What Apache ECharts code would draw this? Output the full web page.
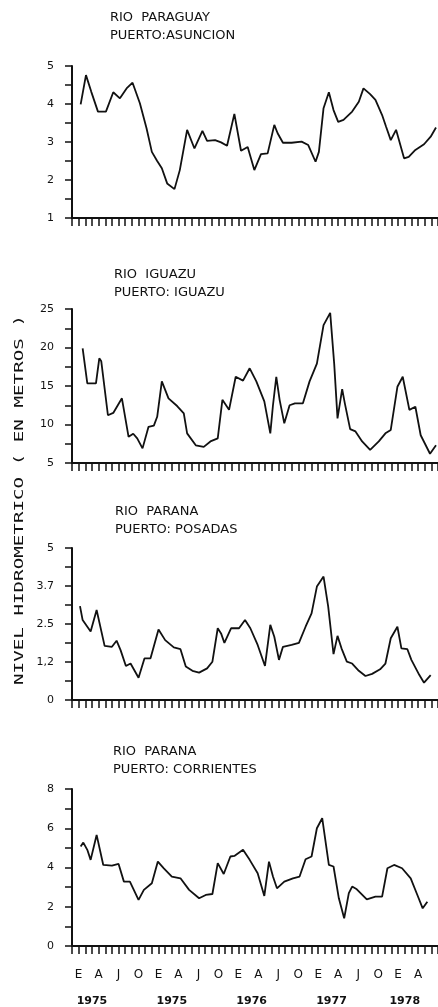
<!DOCTYPE html>
<html>
<head>
<meta charset="utf-8">
<script src="https://cdn.jsdelivr.net/npm/echarts@6/dist/echarts.min.js"></script>
<style>
html, body { margin: 0; padding: 0; background: #fff; }
#chart { width: 438px; height: 1007px; }
</style>
</head>
<body>
<div id="chart"></div>
<script>
// meses contados desde enero 1975 (E = enero, A = abril, J = julio, O = octubre)
var paraguayMes = [0.3,1.1,1.9,2.9,4.1,5.2,6.2,7.2,8.1,9.2,10.2,11.0,11.8,12.5,13.3,14.4,15.2,16.3,17.4,18.6,19.3,20.5,21.4,22.3,23.4,24.4,25.4,26.4,27.4,28.4,29.4,29.9,30.7,32.0,33.5,34.5,35.6,36.1,36.8,37.6,38.3,39.0,39.8,41.1,42.1,42.8,43.8,44.6,45.6,46.2,46.9,47.7,48.9,49.6,50.6,51.9,52.9,53.7];
var paraguayNivel = [3.99,4.76,4.32,3.80,3.80,4.31,4.15,4.41,4.56,4.02,3.36,2.74,2.50,2.31,1.91,1.76,2.26,3.32,2.83,3.29,3.03,3.05,2.99,2.90,3.74,2.77,2.87,2.26,2.68,2.70,3.45,3.23,2.98,2.98,3.01,2.92,2.48,2.74,3.89,4.31,3.84,3.53,3.58,3.80,4.06,4.41,4.26,4.11,3.71,3.40,3.05,3.32,2.57,2.61,2.79,2.94,3.14,3.38];

var iguazuMes = [0.6,1.3,2.6,3.1,3.4,4.4,5.2,6.5,7.5,8.2,8.8,9.6,10.5,11.3,11.8,12.5,13.5,14.8,15.8,16.3,17.6,18.8,19.8,20.9,21.6,22.6,23.6,24.7,25.7,26.7,27.9,28.8,29.2,29.7,30.2,30.9,31.7,32.5,33.7,34.7,35.8,36.8,37.8,38.4,38.9,39.6,40.0,40.8,41.6,42.6,43.8,45.1,46.1,46.9,47.9,48.7,49.7,50.6,51.4,52.8,53.7];
var iguazuNivel = [19.9,15.35,15.35,18.6,18.2,11.2,11.5,13.4,8.4,8.8,8.2,6.9,9.7,9.85,11.0,15.6,13.4,12.4,11.45,8.85,7.3,7.1,7.8,8.2,13.2,11.9,16.2,15.7,17.3,15.6,13.0,8.85,12.5,16.2,13.2,10.15,12.5,12.75,12.75,15.6,17.9,22.9,24.5,17.9,10.8,14.6,12.75,9.4,9.1,7.8,6.7,7.8,8.85,9.3,14.9,16.2,11.9,12.3,8.6,6.2,7.3];

var posadasMes = [0.2,0.6,1.8,2.7,3.9,5.0,5.7,6.3,7.1,7.8,9.0,9.9,10.8,12.0,13.0,14.3,15.3,16.1,17.1,18.1,19.3,20.1,20.9,21.4,21.9,22.9,24.1,25.0,25.8,26.9,28.0,28.8,29.4,30.1,30.7,32.0,33.1,34.1,35.0,35.8,36.8,37.5,38.3,38.9,39.5,40.3,41.1,42.1,43.1,44.1,45.3,46.1,46.9,47.9,48.5,49.4,50.0,51.2,51.9,52.9];
var posadasNivel = [3.09,2.63,2.25,2.96,1.78,1.75,1.95,1.64,1.12,1.20,0.73,1.37,1.37,2.32,1.97,1.73,1.67,1.10,0.96,0.90,1.04,1.26,2.36,2.19,1.88,2.36,2.36,2.63,2.36,1.81,1.12,2.47,2.08,1.32,1.75,1.81,1.88,2.41,2.85,3.73,4.06,3.07,1.51,2.11,1.70,1.26,1.20,0.96,0.79,0.86,1.01,1.20,2.03,2.41,1.70,1.67,1.32,0.82,0.57,0.82];

var corrientesMes = [0.3,0.7,1.3,1.8,2.7,3.7,5.0,6.0,6.8,7.7,9.0,9.8,11.0,11.9,12.8,14.0,15.3,16.6,18.1,19.1,20.1,20.9,21.8,22.8,23.4,24.7,25.7,26.9,27.9,28.6,29.2,29.8,30.9,32.2,33.2,34.1,35.0,35.8,36.6,37.6,38.3,39.1,39.9,40.6,41.1,41.8,43.3,44.6,45.6,46.4,47.4,48.6,49.9,50.9,51.7,52.4];
var corrientesNivel = [5.07,5.27,4.90,4.39,5.66,4.13,4.10,4.18,3.28,3.28,2.35,2.86,3.20,4.30,3.96,3.54,3.45,2.86,2.43,2.60,2.65,4.22,3.67,4.56,4.59,4.90,4.39,3.71,2.55,4.30,3.54,2.94,3.28,3.45,3.54,4.42,4.56,6.00,6.51,4.13,4.05,2.43,1.41,2.69,3.03,2.89,2.38,2.52,2.52,3.96,4.13,3.96,3.45,2.60,1.92,2.26];

var letrasMes = ['E', 'A', 'J', 'O'];
var ultimaLetra = 51;   // la ultima etiqueta es la A de 1978
var anioMes = [2, 14, 26, 38, 49];
var anioTexto = ['1975', '1975', '1976', '1977', '1978'];

var titulos = [
    'RIO  PARAGUAY\nPUERTO:ASUNCION',
    'RIO  IGUAZU\nPUERTO: IGUAZU',
    'RIO  PARANA\nPUERTO: POSADAS',
    'RIO  PARANA\nPUERTO: CORRIENTES'
];

// escalas de los ejes verticales: [min, max, paso de marcas]
var ejeY = [[1, 5, 0.5], [5, 25, 2.5], [0, 5, 0.625], [0, 8, 1]];
var posadasEtiq = { '0': '0', '1.25': '1,2', '2.5': '2.5', '3.75': '3.7', '5': '5' };

var negro = '#111';
var fuente = 'DejaVu Sans';

var gridPos = [
    { top: 66, height: 152 },
    { top: 309, height: 154 },
    { top: 548, height: 152 },
    { top: 789, height: 157 }
];
var tituloPos = [[110, 9], [114, 266], [115, 503], [113, 743]];

function pares(mes, nivel) {
    var out = [];
    for (var i = 0; i < mes.length; i++) {
        out.push([mes[i], nivel[i]]);
    }
    return out;
}

function etiquetaY(idx) {
    return function (v) {
        if (idx == 0) return Math.abs(v - Math.round(v)) < 1e-6 ? String(Math.round(v)) : '';
        if (idx == 1) return v % 5 == 0 ? String(v) : '';
        if (idx == 2) {
            var k = String(Math.round(v * 100) / 100);
            return posadasEtiq[k] || '';
        }
        return v % 2 == 0 ? String(v) : '';
    };
}

function etiquetaX(v) {
    var m = Math.round(v);
    if (m >= 0 && m <= ultimaLetra && m % 3 == 0) return letrasMes[(m / 3) % 4];
    var j = anioMes.indexOf(m);
    if (j >= 0) return '\n{y|' + anioTexto[j] + '}';
    return '';
}

var series = [
    pares(paraguayMes, paraguayNivel),
    pares(iguazuMes, iguazuNivel),
    pares(posadasMes, posadasNivel),
    pares(corrientesMes, corrientesNivel)
];

var option = {
    animation: false,
    backgroundColor: '#fff',
    title: [],
    grid: [],
    xAxis: [],
    yAxis: [],
    series: [],
    graphic: [{
        type: 'text',
        x: 20,
        y: 500,
        rotation: Math.PI / 2,
        scaleX: 1.6,
        style: {
            text: 'NIVEL HIDROMETRICO ( EN METROS )',
            font: '12px "DejaVu Sans Mono"',
            fill: negro,
            textAlign: 'center',
            textVerticalAlign: 'middle'
        }
    }]
};

for (var i = 0; i < 4; i++) {
    option.title.push({
        text: titulos[i],
        left: tituloPos[i][0],
        top: tituloPos[i][1],
        padding: 0,
        textStyle: { fontFamily: fuente, fontSize: 13, fontWeight: 'normal', color: negro, lineHeight: 18 }
    });
    option.grid.push({
        left: 72, right: 0, top: gridPos[i].top, height: gridPos[i].height,
        containLabel: false, outerBoundsMode: 'none'
    });
    var ultimo = (i == 3);
    option.xAxis.push({
        type: 'value',
        gridIndex: i,
        min: -1,
        max: 54,
        interval: 1,
        axisLine: { show: true, onZero: false, lineStyle: { color: negro, width: 2 } },
        axisTick: { show: true, length: 8, lineStyle: { color: negro, width: 1.5 } },
        splitLine: { show: false },
        axisLabel: {
            show: ultimo,
            interval: 0,
            formatter: etiquetaX,
            margin: 16,
            color: negro,
            fontFamily: fuente,
            fontSize: 12,
            lineHeight: 26,
            rich: { y: { fontFamily: fuente, fontSize: 11, fontWeight: 'bold', color: negro, lineHeight: 26 } }
        }
    });
    option.yAxis.push({
        type: 'value',
        gridIndex: i,
        min: ejeY[i][0],
        max: ejeY[i][1],
        interval: ejeY[i][2],
        axisLine: { show: true, onZero: false, lineStyle: { color: negro, width: 2 } },
        axisTick: { show: true, length: 7, lineStyle: { color: negro, width: 1.5 } },
        splitLine: { show: false },
        axisLabel: {
            formatter: etiquetaY(i),
            margin: 18,
            color: negro,
            fontFamily: fuente,
            fontSize: 11,
            padding: [0, 0, 8, 0]
        }
    });
    option.series.push({
        type: 'line',
        xAxisIndex: i,
        yAxisIndex: i,
        data: series[i],
        showSymbol: false,
        symbol: 'none',
        lineStyle: { color: negro, width: 1.8 }
    });
}

var chart = echarts.init(document.getElementById('chart'), null, { renderer: 'canvas' });
chart.setOption(option);
</script>
</body>
</html>
